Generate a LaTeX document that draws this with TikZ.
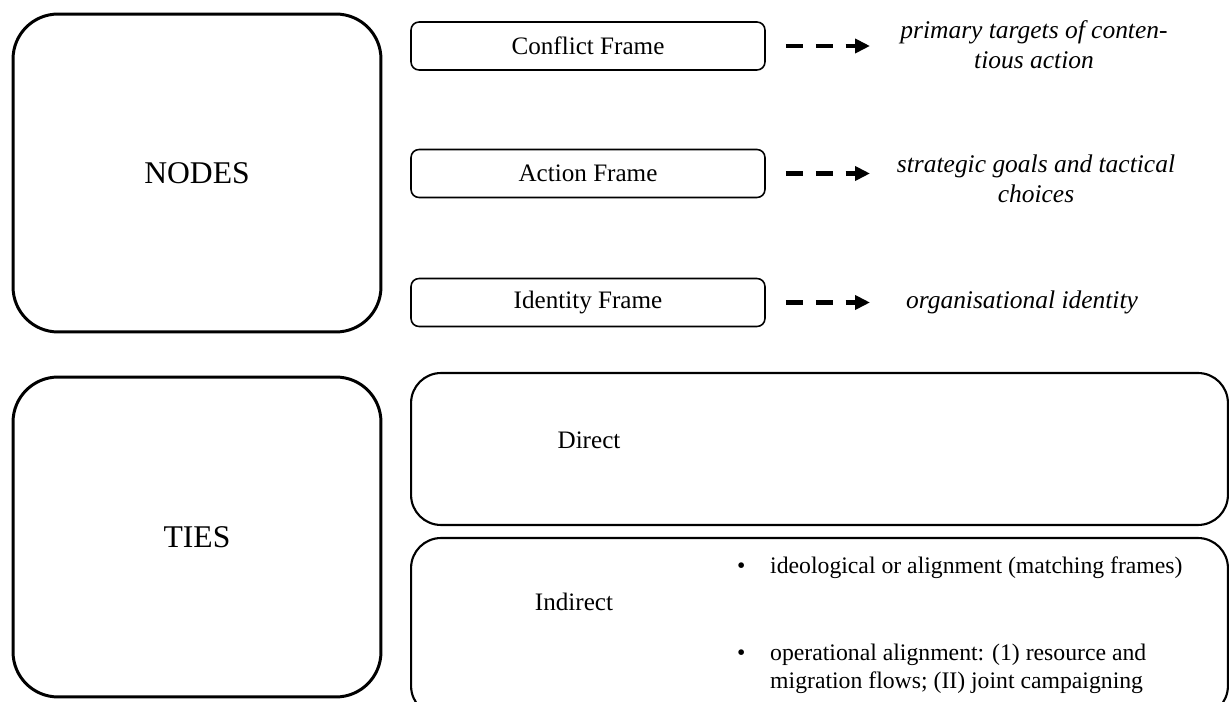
\documentclass[tikz,border=0pt]{standalone}
\usepackage{fontspec}
\setmainfont{Liberation Serif}
\usetikzlibrary{arrows.meta}

\begin{document}
\begin{tikzpicture}[x=0.02cm, y=-0.02cm,
    bigbox/.style={draw, line width=1.7pt, rounded corners=0.9cm, minimum width=7.36cm, font=\fontsize{18}{21}\selectfont},
    framebox/.style={draw, line width=0.9pt, rounded corners=0.16cm, minimum width=7.08cm, minimum height=0.96cm, font=\fontsize{14.3}{17}\selectfont},
    tiebox/.style={draw, line width=1.2pt, rounded corners=0.6cm, minimum width=16.34cm},
    meaning/.style={align=center, font=\fontsize{14.5}{17}\selectfont\itshape},
    plain/.style={font=\fontsize{14.3}{17}\selectfont},
    item/.style={anchor=west, align=left, font=\fontsize{13.5}{15.9}\selectfont},
    dasharrow/.style={line width=2.3pt, dash pattern=on 0.34cm off 0.26cm, shorten <=0.4cm, -{Triangle[length=0.3cm, width=0.28cm]}}]
      \useasboundingbox (0,0) rectangle (1231,702);
      \clip (0,0) rectangle (1231,702);

      \node[bigbox, minimum height=6.36cm] (nodes) at (197,173) {NODES};
      \node[bigbox, minimum height=6.4cm] (ties) at (197,537) {TIES};

      \node[framebox] (cf) at (588,46) {Conflict Frame};
      \node[framebox] (af) at (588,173.5) {Action Frame};
      \node[framebox] (idf) at (588,302.5) {Identity Frame};

      \node[meaning] (cft) at (1034,45) {primary targets of conten-\\tious action};
      \node[meaning] (aft) at (1036,179) {strategic goals and tactical\\choices};
      \node[meaning] (idft) at (1022,302.5) {organisational identity};

      \coordinate (tip) at (870,0);
      \draw[dasharrow] (cf.east) -- (cf.east -| tip);
      \draw[dasharrow] (af.east) -- (af.east -| tip);
      \draw[dasharrow] (idf.east) -- (idf.east -| tip);

      \node[tiebox, minimum height=3.04cm] (dir) at (819.5,449) {};
      \node[plain] (dirl) at (589,440) {Direct};

      \node[tiebox, minimum height=3.56cm] (ind) at (819.5,627) {};
      \node[plain] (indl) at (574,602) {Indirect};
      \node[item] (b1) at (731,568) {\textbullet};
      \node[item] (i1) at (764,568) {ideological or alignment (matching frames)};
      \node[item] (b2) at (731,655) {\textbullet};
      \node[item] (i2) at (764,669) {operational alignment: (1) resource and\\migration flows; (II) joint campaigning};
    \end{tikzpicture}
\end{document}
